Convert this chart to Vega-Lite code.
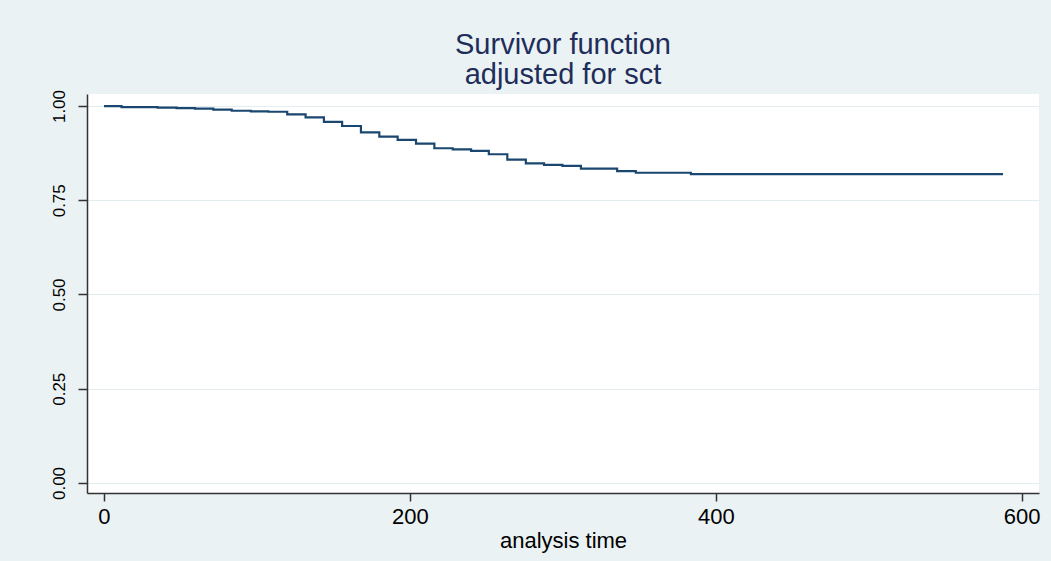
{
  "$schema": "https://vega.github.io/schema/vega-lite/v6.json",
  "width": 952,
  "height": 399,
  "autosize": {"type": "none"},
  "padding": {"left": 87, "top": 94, "right": 12, "bottom": 68},
  "background": "#EAF2F3",
  "title": {
    "text": ["Survivor function", "adjusted for sct"],
    "font": "Liberation Sans",
    "fontSize": 29,
    "fontWeight": "normal",
    "color": "#1E2D5A",
    "anchor": "middle",
    "lineHeight": 30,
    "offset": -1
  },
  "config": {
    "view": {"fill": "white", "stroke": null},
    "axis": {
      "labelFont": "Liberation Sans",
      "titleFont": "Liberation Sans",
      "labelColor": "#000000",
      "titleColor": "#000000",
      "domainColor": "#333333",
      "domainWidth": 1.5,
      "tickColor": "#333333",
      "tickWidth": 1.5
    }
  },
  "data": {
    "values": [
      {"t": 0, "s": 1.0},
      {"t": 11.5, "s": 0.997},
      {"t": 35, "s": 0.9955},
      {"t": 47.5, "s": 0.9945},
      {"t": 59.5, "s": 0.993},
      {"t": 71.5, "s": 0.9905},
      {"t": 83.5, "s": 0.9875},
      {"t": 96, "s": 0.9858},
      {"t": 107.5, "s": 0.9848},
      {"t": 119.8, "s": 0.978},
      {"t": 131.8, "s": 0.97},
      {"t": 143.8, "s": 0.958},
      {"t": 155.7, "s": 0.947},
      {"t": 168, "s": 0.93},
      {"t": 180, "s": 0.919},
      {"t": 192, "s": 0.91},
      {"t": 204, "s": 0.9005},
      {"t": 216, "s": 0.888},
      {"t": 228, "s": 0.885},
      {"t": 240, "s": 0.881},
      {"t": 251.6, "s": 0.872},
      {"t": 263.7, "s": 0.858},
      {"t": 275.8, "s": 0.848},
      {"t": 287.7, "s": 0.844},
      {"t": 299.7, "s": 0.841},
      {"t": 311.8, "s": 0.834},
      {"t": 335.5, "s": 0.8275},
      {"t": 347.7, "s": 0.823},
      {"t": 383.7, "s": 0.8195},
      {"t": 587.8, "s": 0.8195}
    ]
  },
  "mark": {"type": "line", "interpolate": "step-after", "color": "#1A476F", "strokeWidth": 2.2},
  "encoding": {
    "x": {
      "field": "t",
      "type": "quantitative",
      "scale": {"domain": [-11.1, 611.3], "nice": false, "zero": false},
      "axis": {
        "values": [0, 200, 400, 600],
        "title": "analysis time",
        "grid": false,
        "labelFontSize": 22,
        "titleFontSize": 22,
        "titleFontWeight": "normal",
        "tickSize": 8,
        "labelPadding": 5,
        "titlePadding": 3
      }
    },
    "y": {
      "field": "s",
      "type": "quantitative",
      "scale": {"domain": [-0.0266, 1.0319], "nice": false, "zero": false},
      "axis": {
        "values": [0, 0.25, 0.5, 0.75, 1],
        "format": ".2f",
        "title": null,
        "grid": true,
        "gridColor": "#E3ECEF",
        "gridWidth": 1,
        "labelFontSize": 17,
        "labelAngle": -90,
        "labelAlign": "center",
        "labelBaseline": "bottom",
        "tickSize": 9,
        "labelPadding": 10
      }
    }
  }
}
